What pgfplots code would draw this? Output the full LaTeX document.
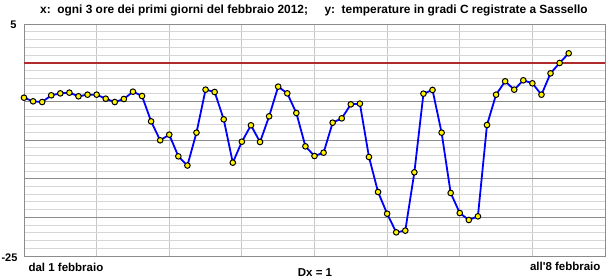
\documentclass[border=0pt]{standalone}
\usepackage{pgfplots}
\pgfplotsset{compat=1.18}
\usepackage{fontspec}
\setmainfont{Liberation Sans}
\definecolor{zerored}{RGB}{176,44,44}
\begin{document}
\begin{tikzpicture}[x=1pt,y=1pt]
\useasboundingbox (-24,-23) rectangle (585,256);
\begin{axis}[at={(0,0)},anchor=south west,scale only axis,width=581pt,height=232pt,
xmin=0,xmax=64,ymin=-25,ymax=5,
xtick={0,8,...,64}, xticklabels={},
ytick={-25,-20,...,5}, yticklabels={},
minor y tick num=4,
grid=both,
major x grid style={draw=black!22, line width=0.8pt},
major y grid style={draw=black!45, line width=0.8pt},
minor y grid style={draw=black!16, line width=0.8pt},
major tick length=0pt, minor tick length=0pt,
axis line style={draw=black!45,line width=0.8pt},
clip=false]
\addplot[zerored, line width=2pt, forget plot] coordinates {(0,0) (64,0)};
\addplot[blue, line width=1.8pt, mark=*, mark size=2.8pt,
  mark options={fill=yellow, draw=black, line width=1pt}] table {
x y
0 -4.53
1 -5.00
2 -5.09
3 -4.22
4 -3.97
5 -3.88
6 -4.35
7 -4.14
8 -4.14
9 -4.66
10 -5.09
11 -4.70
12 -3.75
13 -4.31
14 -7.59
15 -10.04
16 -9.31
17 -12.11
18 -13.30
19 -9.05
20 -3.49
21 -3.79
22 -7.33
23 -12.93
24 -10.22
25 -8.10
26 -10.26
27 -6.94
28 -3.10
29 -3.97
30 -6.51
31 -10.82
32 -12.07
33 -11.64
34 -7.76
35 -7.20
36 -5.39
37 -5.30
38 -12.20
39 -16.72
40 -19.53
41 -21.94
42 -21.72
43 -14.18
44 -4.01
45 -3.53
46 -9.05
47 -16.85
48 -19.44
49 -20.34
50 -19.87
51 -8.06
52 -4.14
53 -2.41
54 -3.49
55 -2.28
56 -2.67
57 -4.14
58 -1.38
59 -0.04
60 1.21
};
\end{axis}
\node[anchor=west,inner sep=0pt,font=\bfseries\fontsize{11.9}{13}\selectfont] at (16,246) {x:\ \ ogni 3 ore dei primi giorni del febbraio 2012;\ \ \ \ \ y:\ \ temperature in gradi C registrate a Sassello};
\node[anchor=east,font=\bfseries\fontsize{11}{13}\selectfont] at (-4,231) {5};
\node[anchor=east,font=\bfseries\fontsize{11}{13}\selectfont] at (-3,-1.5) {-25};
\node[anchor=west,font=\bfseries\fontsize{11.5}{13}\selectfont] at (1,-11) {dal 1 febbraio};
\node[font=\bfseries\fontsize{11.5}{13}\selectfont] at (291,-16.5) {Dx = 1};
\node[anchor=east,font=\bfseries\fontsize{11.5}{13}\selectfont] at (580,-10.5) {all\textquotesingle 8 febbraio};
\end{tikzpicture}
\end{document}
